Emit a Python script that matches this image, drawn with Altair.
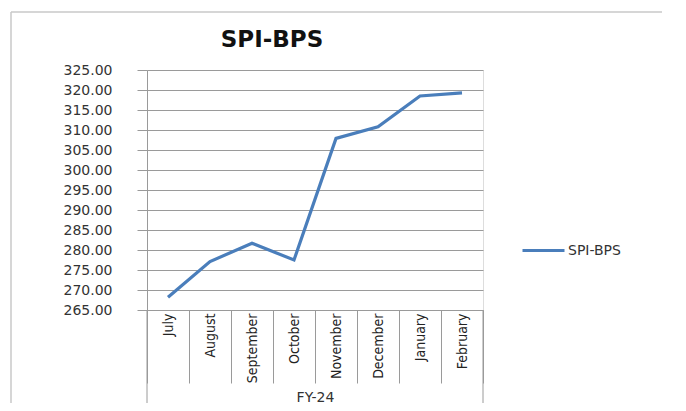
import altair as alt
import pandas as pd

months = ["July", "August", "September", "October", "November", "December", "January", "February"]
values = [268.2, 277.1, 281.7, 277.5, 307.9, 310.8, 318.5, 319.3]
series = ["SPI-BPS"] * len(months)
y_ticks = [265, 270, 275, 280, 285, 290, 295, 300, 305, 310, 315, 320, 325]
chart_title = "SPI-BPS"

df = pd.DataFrame({"Month": months, "Value": values, "Series": series})

W, H = 336, 240
WIDE = "DejaVu Sans"
NARROW = "Liberation Sans Narrow, DejaVu Sans Condensed, Arial Narrow, sans-serif"
GRID = "#9a9a9a"

line = alt.Chart(df).mark_line(strokeWidth=3.2, color="#4a7ebb").encode(
    x=alt.X("Month:N", sort=months, scale=alt.Scale(paddingInner=0, paddingOuter=0),
            axis=alt.Axis(title="FY-24", labelAngle=-90, labelFont=NARROW, labelFontSize=14,
                          labelColor="#222", labelPadding=-70, tickBand="extent", tickSize=73,
                          tickColor=GRID, domainColor=GRID, grid=False,
                          titleFont=WIDE, titleFontSize=14, titleFontWeight="normal",
                          titleColor="#333", titleY=87, titleBaseline="middle")),
    y=alt.Y("Value:Q", scale=alt.Scale(domain=[265, 325], nice=False, zero=False),
            axis=alt.Axis(title=None, values=y_ticks, format=".2f", labelFont=WIDE,
                          labelFontSize=14, labelColor="#333", labelPadding=25, tickSize=10,
                          tickColor=GRID, gridColor=GRID, domainColor=GRID)),
    color=alt.Color("Series:N", scale=alt.Scale(range=["#4a7ebb"]),
                    legend=alt.Legend(title=None, orient="none", legendX=374, legendY=158,
                                      symbolType="stroke", symbolSize=1764, symbolStrokeWidth=3,
                                      labelFont=WIDE, labelFontSize=14, labelColor="#333",
                                      labelOffset=2)),
)

title_df = pd.DataFrame({"t": [chart_title]})
title = alt.Chart(title_df).mark_text(font=WIDE, fontSize=23, fontWeight="bold", color="#111",
                                      align="center", baseline="alphabetic").encode(
    text="t:N", x=alt.value(125), y=alt.value(-23))

frame_top = alt.Chart(title_df).mark_rule(stroke="#c8c8c8", strokeWidth=1.5).encode(
    x=alt.value(-136), x2=alt.value(515), y=alt.value(-58), y2=alt.value(-58))
frame_left = alt.Chart(title_df).mark_rule(stroke="#c8c8c8", strokeWidth=1.5).encode(
    x=alt.value(-136), x2=alt.value(-136), y=alt.value(-58), y2=alt.value(500))

edges = pd.DataFrame({"pos": [0, W]})
side_rules = alt.Chart(edges).mark_rule(color=GRID, strokeWidth=1).encode(
    x=alt.X("pos:Q", scale=None), y=alt.value(H), y2=alt.value(H + 110))

chart = alt.layer(frame_top, frame_left, side_rules, title, line).properties(
    width=W, height=H,
    autosize=alt.AutoSizeParams(type="none"),
    padding={"left": 139, "top": 62, "right": 193, "bottom": 93},
).configure_view(stroke=None).configure(background="white")

chart.save("out.html", embed_options={"renderer": "svg", "actions": False})
